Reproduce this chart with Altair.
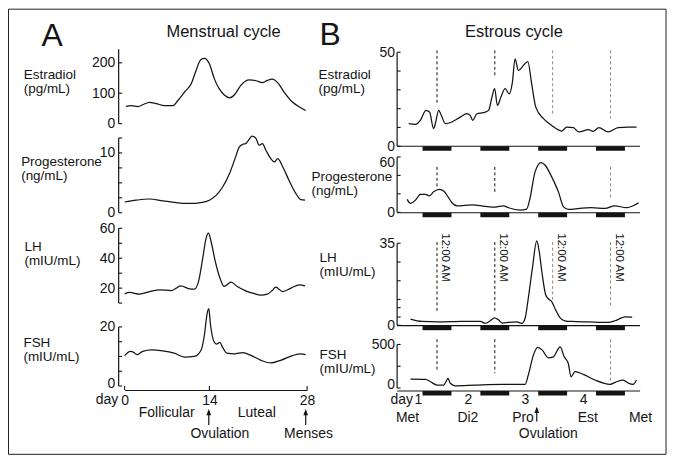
import altair as alt
import pandas as pd

FONT = "Liberation Sans"
INK = "#141414"
GREY = "#8a8a8a"

# ================= Panel A : menstrual cycle (x = day of cycle) =================
A_EST_DAY = [0.2, 1.1, 2.2, 3.0, 4.1, 5.2, 6.6, 8.0, 8.8, 9.9, 11.0, 11.8, 12.6, 13.2, 14.0, 14.7,
             15.4, 16.1, 16.9, 17.6, 18.5, 19.7, 20.7, 21.6, 22.3, 23.0, 23.8, 24.7, 25.9, 26.9, 27.8]
A_EST_VAL = [57, 59, 56, 62, 70, 66, 59, 59, 76, 104, 131, 175, 211, 215, 197, 148,
             115, 95, 85, 95, 126, 144, 141, 135, 142, 146, 134, 104, 71, 55, 43]

A_PRO_DAY = [0, 1.9, 4.1, 6.3, 8.5, 10.7, 12.6, 14.0, 15.0, 15.9, 16.9, 17.6, 18.3, 18.8, 19.2,
             19.6, 20.1, 20.7, 21.1, 21.6, 22.1, 22.8, 23.3, 23.8, 24.5, 25.4, 26.4, 27.1, 27.7]
A_PRO_VAL = [1.8, 2.1, 2.3, 2.0, 1.7, 1.55, 1.7, 2.1, 2.95, 4.3, 6.6, 8.8, 11.0, 11.45, 11.55,
             12.1, 12.8, 12.4, 11.3, 11.55, 10.45, 9.05, 8.5, 9.05, 7.7, 5.45, 3.2, 2.2, 2.1]

A_LH_DAY = [0, 0.8, 2.5, 4.1, 5.8, 7.7, 9.3, 10.7, 11.5, 12.2, 12.9, 13.45, 13.85, 14.25, 14.85,
            15.7, 16.1, 17.1, 18.0, 19.2, 20.2, 21.4, 22.3, 23.0, 23.5, 24.5, 25.7, 26.9, 27.7]
A_LH_VAL = [16.2, 17.1, 16.0, 17.7, 18.9, 18.4, 21.5, 19.5, 19.3, 24.4, 40, 53.3, 56.7, 51, 37.7,
            24.4, 21.1, 24.0, 21.1, 18.2, 16.7, 15.3, 16.0, 18.4, 20.7, 17.7, 20.0, 22.2, 21.5]

A_FSH_DAY = [0, 0.95, 1.5, 2.0, 3.0, 4.4, 6.3, 8.2, 9.9, 11.5, 12.6, 13.2, 13.6, 13.9, 14.15,
             14.7, 15.0, 15.5, 15.9, 16.5, 17.6, 18.8, 20.0, 21.4, 22.8, 24.2, 25.9, 27.1, 27.8]
A_FSH_VAL = [10.3, 11.7, 11.4, 10.6, 11.7, 12.2, 11.9, 11.1, 9.8, 10.0, 12.0, 17.6, 24.2, 26.2, 20.9,
             14.8, 14.2, 14.8, 13.1, 11.1, 10.9, 11.3, 10.3, 8.7, 7.8, 8.7, 10.3, 10.9, 10.6]

A_DAY_TICKS = [0, 14, 28]
A_PHASES = ["Follicular", "Luteal"]
A_PHASE_DAY = [6.95, 20.8]
A_EVENTS = ["Ovulation", "Menses"]
A_EVENT_DAY = [15.5, 28.2]
A_ARROW_DAY = [13.9, 27.8]

# ================= Panel B : estrous cycle (x = hours after first midnight) =================
B_EST_HR = [-11.7, -8.9, -6.9, -4.6, -3.1, -1.4, -0.7, 0.7, 1.8, 3.5, 6.2, 9.7, 12.4, 13.8, 14.8,
            16.6, 19.3, 21.4, 22.8, 23.9, 25.1, 26.5, 28.3, 30.0, 31.3, 32.4, 33.8, 35.9, 37.7,
            39.3, 41.0, 44.2, 47.6, 51.7, 53.8, 56.6, 58.9, 62.8, 64.8, 67.2, 71.0, 75.2, 79.3, 82.8]
B_EST_VAL = [12.0, 11.7, 13.8, 19.1, 18.2, 9.4, 12.0, 19.1, 16.4, 12.0, 12.9, 15.5, 17.3, 16.4, 13.8,
             17.3, 17.9, 19.1, 26.1, 30.6, 21.7, 26.1, 30.6, 27.9, 34.1, 46.5, 40.3, 43.0, 45.0,
             33.2, 20.8, 14.7, 11.1, 8.1, 10.2, 9.9, 7.6, 8.8, 7.95, 9.9, 7.6, 9.9, 10.2, 10.2]

B_PRO_HR = [-12.4, -11.0, -8.9, -6.9, -4.8, -3.1, -1.4, 1.0, 2.8, 4.6, 6.2, 8.3, 14.5, 20.0, 24.2,
            27.6, 29.7, 34.5, 37.2, 38.6, 40.7, 43.2, 44.9, 47.6, 50.4, 52.5, 54.6, 59.3, 64.1,
            69.7, 73.8, 78.6, 81.4, 83.7]
B_PRO_VAL = [14, 9.7, 13.3, 19.4, 19.4, 17.9, 22.2, 24.8, 23, 16.8, 10.4, 7.1, 8.2, 6.5, 5.7,
             7.1, 5.0, 2.5, 3.6, 15.1, 43.8, 53.9, 51, 38.4, 22.2, 6.0, 3.2, 4.3, 5.0,
             4.3, 7.1, 5.0, 7.1, 10.4]

B_LH_HR = [-11.0, -6.2, 0.7, 10.3, 18.0, 20.0, 22.1, 23.9, 25.5, 27.2, 29.7, 33.1, 35.2, 36.6, 37.9,
           39.6, 41.4, 42.4, 43.7, 45.1, 46.2, 47.6, 49.2, 51.1, 53.1, 55.9, 62.8, 71.0, 73.8,
           76.6, 78.2, 81.0]
B_LH_VAL = [2.6, 1.6, 1.4, 1.6, 1.6, 0.8, 1.9, 3.1, 2.3, 0.9, 1.2, 1.4, 0.8, 3.1, 11.6,
            24.4, 36.0, 31.6, 21.5, 13.0, 11.3, 10.1, 6.6, 3.1, 1.9, 1.6, 1.4, 1.2, 1.9,
            3.1, 3.6, 3.5]

B_FSH_HR = [-11.0, -4.8, -2.7, 0.0, 2.8, 3.7, 4.6, 5.5, 7.6, 15.9, 26.9, 36.6, 37.9, 40.0, 41.8,
            43.7, 46.2, 48.3, 51.1, 52.8, 54.5, 55.6, 57.3, 60.7, 65.5, 71.8, 74.5, 77.2, 79.6,
            81.4, 82.8]
B_FSH_VAL = [103, 100, 72, 34, 34, 72, 111, 54, 26, 34, 42, 42, 149, 378, 466,
             435, 347, 358, 473, 358, 282, 129, 187, 157, 92, 42, 72, 92, 54,
             42, 92]

# dashed midnight markers: hour, from value, to value
B_EST_DASH = ([0, 24, 48, 72], [51, 51, 51, 51], [22.8, 37.6, 16.4, 14.7])
B_PRO_DASH = ([0, 24, 72], [49.2, 49.2, 49.2], [27.6, 20.5, 15.1])
B_LH_DASH = ([0, 24, 48, 72], [35.5, 35.5, 35.5, 35.5], [5.9, 5.2, 10.9, 8.0])
B_FSH_DASH = ([0, 24, 72], [560, 560, 560], [194, 172, 72])
MIDNIGHT_HR = [0, 24, 48, 72]
MIDNIGHT_LABEL = "12:00 AM"

NIGHT_START = [-6, 18, 42, 66]
NIGHT_END = [6, 30, 54, 78]

B_DAY_LABELS = ["1", "2", "3", "4"]
B_DAY_HR = [-7.7, 13.0, 36.7, 60.9]
B_PHASES = ["Met", "Di2", "Pro", "Est", "Met"]
B_PHASE_HR = [-12.2, 12.8, 35.7, 62.6, 84.5]
B_ARROW_HR = [41.4]
B_OVUL_HR = [46.2]

# ================= layout (page pixels) =================
ONE = pd.DataFrame({"k": [0]})
A_LEFT = 125
A_W = 183
B_LEFT = 400
B_W = 242
A_AX_OFF = 6
B_AX_OFF = 1.7
ROWS = [40, 150, 220, 326.5, 390]          # shared row bands of the grid
TITLE_LH = 14
A_XSC = alt.Scale(domain=[0, 14, 28], range=[0, 85, A_W], nice=False, zero=False)
PX_PER_HR = (612.3 - 438.3) / 72
B_X0 = 438.3
B_XSC = alt.Scale(domain=[(B_LEFT - B_X0) / PX_PER_HR, (B_LEFT + B_W - B_X0) / PX_PER_HR],
                  nice=False, zero=False)
ARROW = "M0,-1L0.75,1L-0.75,1Z"


def shift_label(value, px):
    return {"condition": {"test": f"datum.value == {value}", "value": px}, "value": 0}


def yscale(top, bottom, calib):
    (v0, p0), (v1, p1) = calib
    k = (p1 - p0) / (v1 - v0)
    return alt.Scale(domain=[v0 + (bottom - p0) / k, v0 + (top - p0) / k], nice=False, zero=False)


def yq(field, ysc):
    return alt.Y(field, type="quantitative", scale=ysc)


def xq(field, xsc):
    return alt.X(field, type="quantitative", scale=xsc)


def make_panel(xs, vs, xsc, width, left, row, calib, ticks, labels, extent, ax_off,
               lab_pad, title, tx, ty, xaxis=None, extras=None, label_offset=0):
    top, bottom = ROWS[row], ROWS[row + 1]
    ysc = yscale(top, bottom, calib)
    H = bottom - top
    main = alt.Chart(pd.DataFrame({"x": xs, "v": vs})).mark_line(
        color=INK, strokeWidth=1.25, interpolate="monotone"
    ).encode(
        x=alt.X("x:Q", scale=xsc, axis=xaxis),
        y=alt.Y("v:Q", scale=ysc, axis=alt.Axis(
            values=labels, ticks=False, tickSize=0, domain=False, grid=False, offset=ax_off,
            labelPadding=lab_pad, labelFontSize=14, labelColor=INK, labelFlush=False,
            labelOverlap=False, format="d", labelOffset=label_offset,
            title=title, titleAngle=0, titleAlign="left", titleBaseline="alphabetic",
            titleX=tx - (left - ax_off), titleY=ty - top, titleFontSize=13.5,
            titleFontWeight="normal", titleLineHeight=TITLE_LH, titleColor=INK)),
    )
    axl = alt.Chart(pd.DataFrame({"v": [extent[0]], "v2": [extent[1]]})).mark_rule(
        color=INK, strokeWidth=1.2
    ).encode(x=alt.value(-ax_off), y=yq("v", ysc), y2=alt.Y2("v2"))
    tk = alt.Chart(pd.DataFrame({"v": ticks})).mark_rule(color=INK, strokeWidth=1.1).encode(
        x=alt.value(-ax_off), x2=alt.value(-ax_off + 3.5), y=yq("v", ysc))
    layers = [main, axl, tk]
    if extras:
        layers += extras(xsc, ysc, H, left, top)
    return alt.layer(*layers).properties(width=width, height=H)


def b_extras(base_px, dashes, more=None):
    def f(xsc, ysc, H, left, top):
        base = base_px - top
        out = [
            alt.Chart(ONE).mark_rule(color=INK, strokeWidth=1.2).encode(
                x=alt.value(-B_AX_OFF), x2=alt.value(B_W), y=alt.value(base)),
            alt.Chart(pd.DataFrame({"s": NIGHT_START, "e": NIGHT_END})).mark_rect(color=INK).encode(
                x=xq("s", xsc), x2=alt.X2("e"), y=alt.value(base), y2=alt.value(base + 4.5)),
        ]
        hr, v1, v2 = dashes
        dd = pd.DataFrame({"x": hr, "v": v1, "v2": v2})
        for cond, col in (("datum.x < 36", INK), ("datum.x >= 36", GREY)):
            out.append(alt.Chart(dd).transform_filter(cond).mark_rule(
                color=col, strokeWidth=1, strokeDash=[3, 2.5]
            ).encode(x=xq("x", xsc), y=yq("v", ysc), y2=alt.Y2("v2")))
        if more:
            out += more(xsc, ysc, H, left, top)
        return out
    return f


def page_text(txt, x, y, size, left, top, align="left"):
    return alt.Chart(ONE).mark_text(text=txt, fontSize=size, align=align, baseline="alphabetic",
                                    color=INK).encode(x=alt.value(x - left), y=alt.value(y - top))


# ---- Panel A extras ----
def a_top_extras(xsc, ysc, H, left, top):
    border = alt.Chart(ONE).mark_rect(fillOpacity=0, stroke="#222", strokeWidth=1).encode(
        x=alt.value(8.5 - left), x2=alt.value(668 - left),
        y=alt.value(8.5 - top), y2=alt.value(455 - top))
    return [border,
            page_text("A", 41.5, 45, 32, left, top),
            page_text("Menstrual cycle", 224.2, 36, 16.5, left, top, "center")]


def a_bottom_extras(xsc, ysc, H, left, top):
    return [
        alt.Chart(pd.DataFrame({"x": A_DAY_TICKS})).mark_rule(color=INK, strokeWidth=1.1).encode(
            x=xq("x", xsc), y=alt.value(H - 4), y2=alt.value(H)),
        alt.Chart(pd.DataFrame({"x": [0]})).mark_text(text="day", fontSize=14, align="right",
                                                     baseline="alphabetic", dx=-6.5, color=INK).encode(
            x=xq("x", xsc), y=alt.value(404.3 - top)),
        alt.Chart(pd.DataFrame({"x": A_PHASE_DAY, "t": A_PHASES})).mark_text(
            fontSize=14, align="center", baseline="alphabetic", color=INK).encode(
            x=xq("x", xsc), y=alt.value(416.7 - top), text="t:N"),
        alt.Chart(pd.DataFrame({"x": A_EVENT_DAY, "t": A_EVENTS})).mark_text(
            fontSize=14, align="center", baseline="alphabetic", color=INK).encode(
            x=xq("x", xsc), y=alt.value(438.3 - top), text="t:N"),
        alt.Chart(pd.DataFrame({"x": A_ARROW_DAY})).mark_rule(color=INK, strokeWidth=1.2).encode(
            x=xq("x", xsc), y=alt.value(411 - top), y2=alt.value(425 - top)),
        alt.Chart(pd.DataFrame({"x": A_ARROW_DAY})).mark_point(
            shape=ARROW, filled=True, size=40, color=INK, opacity=1).encode(
            x=xq("x", xsc), y=alt.value(412.2 - top)),
    ]


# ---- Panel B extras ----
def b_top_more(xsc, ysc, H, left, top):
    return [page_text("B", 320.4, 44.5, 32, left, top),
            page_text("Estrous cycle", 515.5, 36.7, 16.5, left, top, "center")]


def b_lh_more(xsc, ysc, H, left, top):
    return [alt.Chart(pd.DataFrame({"x": MIDNIGHT_HR})).mark_text(
        text=MIDNIGHT_LABEL, angle=90, align="left", baseline="middle", dy=-8.5,
        fontSize=11.5, color=INK).encode(x=xq("x", xsc), y=alt.value(233.3 - top))]


def b_bottom_more(xsc, ysc, H, left, top):
    return [
        alt.Chart(pd.DataFrame({"x": [B_DAY_HR[0]]})).mark_text(
            text="day", fontSize=14, align="right", baseline="alphabetic", dx=-5.5, color=INK).encode(
            x=xq("x", xsc), y=alt.value(404.5 - top)),
        alt.Chart(pd.DataFrame({"x": B_DAY_HR, "t": B_DAY_LABELS})).mark_text(
            fontSize=14, align="center", baseline="alphabetic", color=INK).encode(
            x=xq("x", xsc), y=alt.value(404.5 - top), text="t:N"),
        alt.Chart(pd.DataFrame({"x": B_PHASE_HR, "t": B_PHASES})).mark_text(
            fontSize=14, align="center", baseline="alphabetic", color=INK).encode(
            x=xq("x", xsc), y=alt.value(421.7 - top), text="t:N"),
        alt.Chart(pd.DataFrame({"x": B_OVUL_HR})).mark_text(
            text="Ovulation", fontSize=14, align="center", baseline="alphabetic", color=INK).encode(
            x=xq("x", xsc), y=alt.value(438.3 - top)),
        alt.Chart(pd.DataFrame({"x": B_ARROW_HR})).mark_rule(color=INK, strokeWidth=1.2).encode(
            x=xq("x", xsc), y=alt.value(408 - top), y2=alt.value(421.7 - top)),
        alt.Chart(pd.DataFrame({"x": B_ARROW_HR})).mark_point(
            shape=ARROW, filled=True, size=40, color=INK, opacity=1).encode(
            x=xq("x", xsc), y=alt.value(409.9 - top)),
    ]


a_xaxis = alt.Axis(values=A_DAY_TICKS, ticks=False, tickSize=0, domain=True, domainColor=INK,
                   domainWidth=1.2, labelPadding=3.5, labelFontSize=14, labelColor=INK,
                   labelFlush=False, grid=False, format="d", title="")

a_est = make_panel(A_EST_DAY, A_EST_VAL, A_XSC, A_W, A_LEFT, 0, ((0, 123.3), (200, 62.3)),
                   [0, 100, 200], [0, 100, 200], [0, 245], A_AX_OFF, 4,
                   ["Estradiol", "(pg/mL)"], 23.3, 78.5, extras=a_top_extras)
a_pro = make_panel(A_PRO_DAY, A_PRO_VAL, A_XSC, A_W, A_LEFT, 1, ((0, 212.7), (10, 152.7)),
                   [0, 2.5, 5, 7.5, 10, 12.5], [0, 5, 10], [0, 12.5], A_AX_OFF, 4,
                   ["Progesterone", "(ng/mL)"], 20.7, 165.3)
a_lh = make_panel(A_LH_DAY, A_LH_VAL, A_XSC, A_W, A_LEFT, 2, ((10, 303.3), (60, 228.3)),
                  [10, 20, 30, 40, 50, 60], [20, 40, 60], [10, 60], A_AX_OFF, 4,
                  ["LH", "(mIU/mL)"], 24, 250.6)
a_fsh = make_panel(A_FSH_DAY, A_FSH_VAL, A_XSC, A_W, A_LEFT, 3, ((0, 386), (20, 326.7)),
                   [0, 5, 10, 15, 20], [0, 10, 20], [0, 20], A_AX_OFF, 4,
                   ["FSH", "(mIU/mL)"], 23, 346, xaxis=a_xaxis, extras=a_bottom_extras,
                   label_offset=shift_label(0, -2.5))

b_est = make_panel(B_EST_HR, B_EST_VAL, B_XSC, B_W, B_LEFT, 0, ((0, 146), (50, 51.7)),
                   [0, 10, 20, 30, 40, 50], [0, 50], [0, 50], B_AX_OFF, 2.5,
                   ["Estradiol", "(pg/mL)"], 319, 78.3,
                   extras=b_extras(146, B_EST_DASH, b_top_more))
b_pro = make_panel(B_PRO_HR, B_PRO_VAL, B_XSC, B_W, B_LEFT, 1, ((0, 212.3), (60, 156.7)),
                   [0, 20, 40, 60], [0, 60], [0, 60], B_AX_OFF, 2.5,
                   ["Progesterone", "(ng/mL)"], 312, 180,
                   extras=b_extras(212.7, B_PRO_DASH), label_offset=shift_label(60, 6))
b_lh = make_panel(B_LH_HR, B_LH_VAL, B_XSC, B_W, B_LEFT, 2, ((0, 325.5), (35, 243.3)),
                  [0, 3.5, 7.5, 11, 19, 27, 35], [0, 35], [0, 35], B_AX_OFF, 2.5,
                  ["LH", "(mIU/mL)"], 320, 261.3,
                  extras=b_extras(326, B_LH_DASH, b_lh_more))
b_fsh = make_panel(B_FSH_HR, B_FSH_VAL, B_XSC, B_W, B_LEFT, 3, ((0, 388), (500, 344.3)),
                   [0, 250, 500], [0, 500], [0, 500], B_AX_OFF, 2.5,
                   ["FSH", "(mIU/mL)"], 320, 358.3,
                   extras=b_extras(391, B_FSH_DASH, b_bottom_more),
                   label_offset=shift_label(0, -3.5))

chart = alt.concat(a_est, b_est, a_pro, b_pro, a_lh, b_lh, a_fsh, b_fsh, columns=2).properties(
    spacing={"row": 0, "column": B_LEFT - A_LEFT - A_W}, bounds="flush", padding=0
).configure(font=FONT).configure_view(strokeWidth=0)

chart.save("out.html", embed_options={"renderer": "svg", "actions": False})
